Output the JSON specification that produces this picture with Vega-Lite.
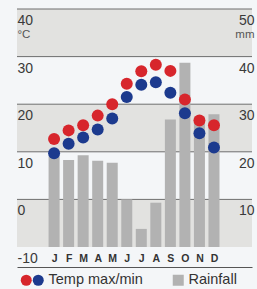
{
  "$schema": "https://vega.github.io/schema/vega-lite/v6.json",
  "width": 235,
  "height": 238,
  "autosize": {"type": "none"},
  "padding": {"left": 17, "top": 9, "right": 5, "bottom": 42},
  "background": "#f4f6f8",
  "config": {"view": {"stroke": null}, "font": "Liberation Sans"},
  "datasets": {
    "months": [
      {"n": 1, "m": "J", "max": 12.7, "min": 9.7, "rain": 19.0},
      {"n": 2, "m": "F", "max": 14.5, "min": 11.7, "rain": 18.3},
      {"n": 3, "m": "M", "max": 15.6, "min": 13.0, "rain": 19.3},
      {"n": 4, "m": "A", "max": 17.6, "min": 14.7, "rain": 18.1},
      {"n": 5, "m": "M", "max": 20.0, "min": 17.0, "rain": 17.7},
      {"n": 6, "m": "J", "max": 24.3, "min": 21.5, "rain": 10.0},
      {"n": 7, "m": "J", "max": 26.9, "min": 24.1, "rain": 3.8},
      {"n": 8, "m": "A", "max": 28.3, "min": 24.6, "rain": 9.3},
      {"n": 9, "m": "S", "max": 27.0, "min": 22.4, "rain": 26.8},
      {"n": 10, "m": "O", "max": 21.0, "min": 18.1, "rain": 38.7},
      {"n": 11, "m": "N", "max": 16.6, "min": 13.9, "rain": 27.3},
      {"n": 12, "m": "D", "max": 15.6, "min": 10.9, "rain": 27.9}
    ],
    "bands": [{"lo": 30, "hi": 40}, {"lo": 10, "hi": 20}, {"lo": -10, "hi": 0}],
    "grid": [{"t": 40}, {"t": 30}, {"t": 20}, {"t": 10}, {"t": 0}]
  },
  "resolve": {"scale": {"y": "independent"}},
  "layer": [
    {
      "data": {"name": "bands"},
      "mark": {"type": "rect", "color": "#e2e2e0"},
      "encoding": {
        "y": {
          "field": "lo", "type": "quantitative",
          "scale": {"domain": [-10, 40], "nice": false, "zero": false},
          "axis": {
            "orient": "left", "values": [40, 30, 20, 10, 0, -10], "title": "°C", "zindex": 1,
            "labelExpr": "'' + datum.value",
            "grid": false, "domain": false, "ticks": false, "tickSize": 0,
            "labelPadding": 0, "labelAlign": "left", "labelBaseline": "alphabetic",
            "labelOffset": 15.5, "labelFontSize": 14, "labelColor": "#3a3a3a",
            "labelFlush": false, "labelOverlap": false, "labelBound": false,
            "titleAngle": 0, "titleX": 0, "titleY": 28, "titleAlign": "left",
            "titleBaseline": "alphabetic", "titleFontSize": 11.5, "titleFontWeight": "normal",
            "titleColor": "#555555"
          }
        },
        "y2": {"field": "hi"}
      }
    },
    {
      "data": {"name": "grid"},
      "mark": {"type": "rule", "color": "#6e6e6e", "strokeWidth": 1},
      "encoding": {
        "y": {
          "field": "t", "type": "quantitative",
          "scale": {"domain": [-10, 40], "nice": false, "zero": false},
          "axis": null
        }
      }
    },
    {
      "data": {"name": "months"},
      "mark": {"type": "bar", "width": 11, "orient": "vertical"},
      "encoding": {
        "x": {
          "field": "n", "type": "quantitative",
          "scale": {"domain": [-1.207, 14.272], "nice": false, "zero": false},
          "axis": {
            "orient": "bottom", "offset": 20, "title": null, "domain": true, "zindex": 1,
            "values": [1, 2, 3, 4, 5, 6, 7, 8, 9, 10, 11, 12],
            "domainColor": "#555555", "domainWidth": 1, "ticks": false, "tickSize": 0,
            "labelPadding": -6, "labelBaseline": "alphabetic",
            "labelExpr": "['J','F','M','A','M','J','J','A','S','O','N','D'][datum.value - 1]", "labelFontSize": 10.5,
            "labelFontWeight": "bold", "labelColor": "#333333", "labelAngle": 0,
            "labelOverlap": false, "labelFlush": false, "labelBound": false, "grid": false
          }
        },
        "y": {
          "field": "rain", "type": "quantitative",
          "scale": {"domain": [0, 50], "nice": false},
          "axis": {
            "orient": "right", "values": [50, 40, 30, 20, 10], "title": "mm", "zindex": 1,
            "grid": false, "domain": false, "ticks": false, "tickSize": 0,
            "labelPadding": 2, "labelAlign": "right", "labelBaseline": "alphabetic",
            "labelOffset": 15.5, "labelFontSize": 14, "labelColor": "#3a3a3a",
            "labelFlush": false, "labelOverlap": false, "labelBound": false,
            "titleAngle": 0, "titleX": 2, "titleY": 28, "titleAlign": "right",
            "titleBaseline": "alphabetic", "titleFontSize": 11.5, "titleFontWeight": "normal",
            "titleColor": "#555555"
          }
        },
        "fill": {
          "datum": "Rainfall", "type": "nominal",
          "scale": {"domain": ["Rainfall"], "range": ["#b2b2b2"]},
          "legend": {
            "title": null, "orient": "none", "legendX": 154, "legendY": 264,
            "symbolSize": 121, "symbolType": "square", "symbolStrokeWidth": 0, "symbolOpacity": 1,
            "labelOffset": 3, "labelFontSize": 14.5, "labelColor": "#333333", "labelLimit": 0,
            "padding": 0
          }
        }
      }
    },
    {
      "data": {"name": "months"},
      "mark": {"type": "point", "filled": true, "shape": "circle", "size": 144, "opacity": 1},
      "encoding": {
        "x": {
          "field": "n", "type": "quantitative",
          "scale": {"domain": [-1.207, 14.272], "nice": false, "zero": false},
          "axis": {
            "orient": "bottom", "offset": 20, "title": null, "domain": true, "zindex": 1,
            "values": [1, 2, 3, 4, 5, 6, 7, 8, 9, 10, 11, 12],
            "domainColor": "#555555", "domainWidth": 1, "ticks": false, "tickSize": 0,
            "labelPadding": -6, "labelBaseline": "alphabetic",
            "labelExpr": "['J','F','M','A','M','J','J','A','S','O','N','D'][datum.value - 1]", "labelFontSize": 10.5,
            "labelFontWeight": "bold", "labelColor": "#333333", "labelAngle": 0,
            "labelOverlap": false, "labelFlush": false, "labelBound": false, "grid": false
          }
        },
        "y": {
          "field": "max", "type": "quantitative",
          "scale": {"domain": [-10, 40], "nice": false, "zero": false},
          "axis": null
        },
        "color": {
          "datum": "max", "type": "nominal",
          "scale": {"domain": ["max"], "range": ["#d7262c"]},
          "legend": {
            "title": null, "orient": "none", "legendX": 2, "legendY": 264,
            "symbolSize": 121, "symbolType": "circle", "symbolStrokeWidth": 0, "symbolOpacity": 1,
            "labelOffset": 0, "labelFontSize": 14.5, "labelLimit": 0, "padding": 0,
            "labelExpr": "''"
          }
        }
      }
    },
    {
      "data": {"name": "months"},
      "mark": {"type": "point", "filled": true, "shape": "circle", "size": 144, "opacity": 1, "fill": "#1c3a8e", "strokeWidth": 0},
      "encoding": {
        "x": {
          "field": "n", "type": "quantitative",
          "scale": {"domain": [-1.207, 14.272], "nice": false, "zero": false},
          "axis": {
            "orient": "bottom", "offset": 20, "title": null, "domain": true, "zindex": 1,
            "values": [1, 2, 3, 4, 5, 6, 7, 8, 9, 10, 11, 12],
            "domainColor": "#555555", "domainWidth": 1, "ticks": false, "tickSize": 0,
            "labelPadding": -6, "labelBaseline": "alphabetic",
            "labelExpr": "['J','F','M','A','M','J','J','A','S','O','N','D'][datum.value - 1]", "labelFontSize": 10.5,
            "labelFontWeight": "bold", "labelColor": "#333333", "labelAngle": 0,
            "labelOverlap": false, "labelFlush": false, "labelBound": false, "grid": false
          }
        },
        "y": {
          "field": "min", "type": "quantitative",
          "scale": {"domain": [-10, 40], "nice": false, "zero": false},
          "axis": null
        },
        "stroke": {
          "datum": "min", "type": "nominal",
          "scale": {"domain": ["min"], "range": ["#1c3a8e"]},
          "legend": {
            "title": null, "orient": "none", "legendX": 14, "legendY": 264,
            "symbolSize": 121, "symbolType": "circle", "symbolStrokeWidth": 0, "symbolOpacity": 1,
            "symbolFillColor": "#1c3a8e",
            "labelOffset": 3, "labelFontSize": 14.5, "labelColor": "#333333", "labelLimit": 0,
            "padding": 0,
            "labelExpr": "'Temp max/min'",
            "encode": {"symbols": {"update": {"fill": {"value": "#1c3a8e"}, "fillOpacity": {"value": 1}}}}
          }
        }
      }
    }
  ]
}
